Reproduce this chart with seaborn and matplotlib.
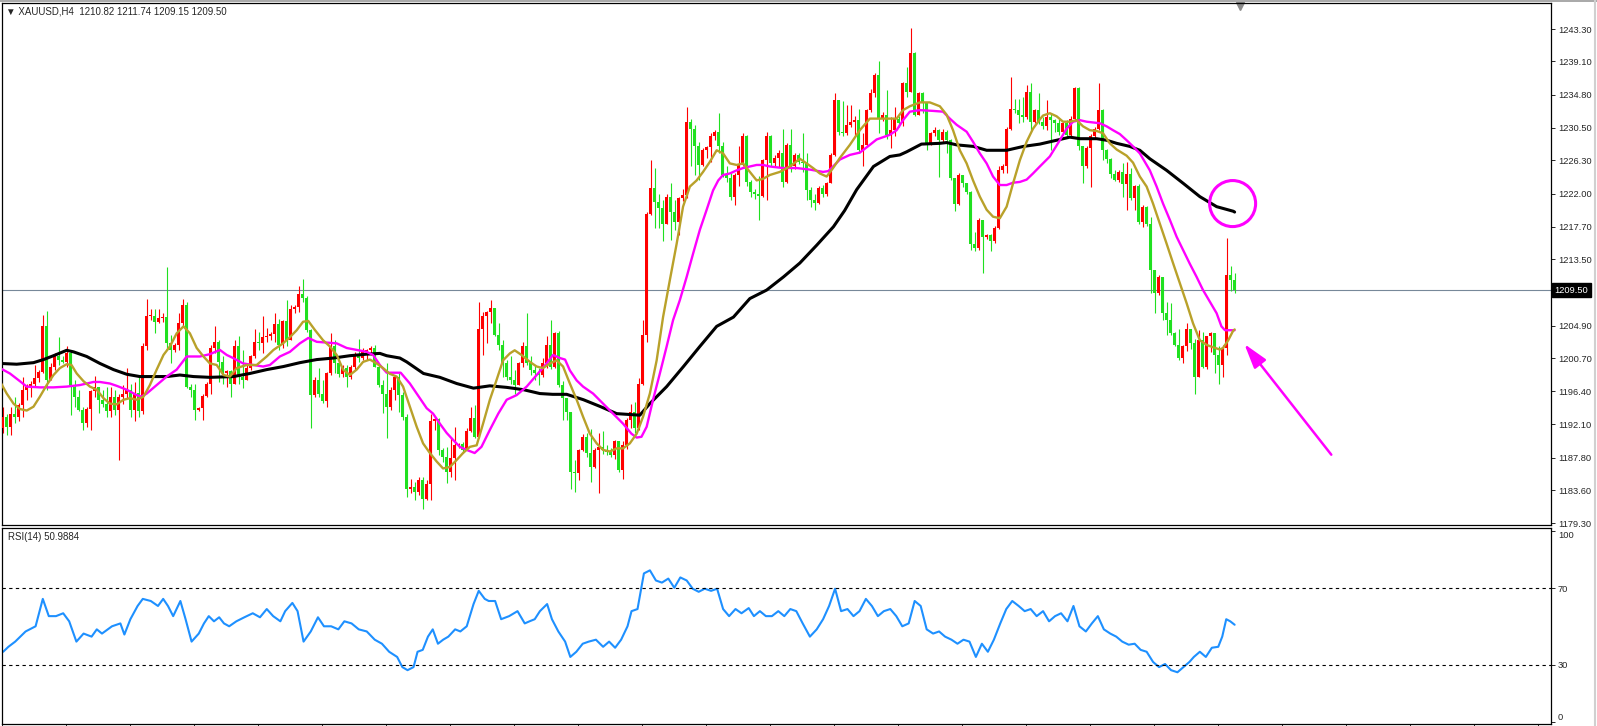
import numpy as np
import pandas as pd
import matplotlib
matplotlib.use('Agg')
import matplotlib.pyplot as plt
import seaborn as sns
from matplotlib.patches import Ellipse
from matplotlib.lines import Line2D

# XAUUSD H4 candles, open of each bar = previous close
first_open = 1191.6
close = [
    1193.1, 1191.8, 1193.5, 1193.1, 1194.6, 1196.6, 1197.0, 1197.4, 1198.1, 1198.9,
    1204.8, 1197.9, 1199.6, 1200.9, 1200.5, 1200.2, 1201.3, 1197.0, 1195.7, 1194.0,
    1192.3, 1194.1, 1196.4, 1197.0, 1195.3, 1194.8, 1193.8, 1195.7, 1194.0, 1195.7,
    1196.1, 1196.6, 1194.0, 1196.2, 1193.8, 1202.2, 1206.1, 1206.2, 1205.4, 1205.9,
    1206.0, 1202.6, 1201.8, 1202.4, 1205.2, 1207.6, 1196.9, 1196.6, 1194.0, 1194.2,
    1195.8, 1197.4, 1202.0, 1202.8, 1200.2, 1198.7, 1199.0, 1197.4, 1202.2, 1198.3,
    1197.9, 1199.4, 1200.9, 1202.8, 1202.7, 1203.4, 1203.5, 1203.8, 1205.1, 1202.4,
    1205.5, 1203.0, 1207.0, 1207.3, 1209.0, 1208.5, 1204.3, 1195.9, 1197.9, 1196.1,
    1195.1, 1198.7, 1202.2, 1200.0, 1198.6, 1199.4, 1198.3, 1199.6, 1201.2, 1200.7,
    1201.5, 1201.8, 1202.0, 1199.6, 1197.2, 1196.0, 1194.4, 1196.5, 1198.2, 1195.9,
    1193.1, 1183.8, 1184.0, 1183.4, 1184.9, 1182.5, 1184.4, 1192.5, 1192.8, 1188.8,
    1187.9, 1186.0, 1187.7, 1189.4, 1189.6, 1188.8, 1191.3, 1192.9, 1190.5, 1204.5,
    1206.1, 1206.6, 1207.2, 1203.7, 1202.4, 1200.0, 1198.3, 1197.9, 1197.2, 1200.0,
    1202.2, 1200.0, 1199.1, 1198.7, 1198.5, 1200.0, 1202.4, 1199.6, 1203.9, 1197.2,
    1195.5, 1193.7, 1186.0, 1185.8, 1188.8, 1190.5, 1188.4, 1186.6, 1188.8, 1189.2,
    1188.8, 1188.5, 1188.2, 1189.9, 1186.2, 1189.4, 1192.7, 1193.7, 1191.6, 1197.4,
    1203.7, 1219.4, 1222.7, 1220.9, 1220.1, 1218.1, 1221.6, 1219.6, 1218.3, 1221.4,
    1221.8, 1231.3, 1230.4, 1228.1, 1225.7, 1227.6, 1228.0, 1229.4, 1230.0, 1228.1,
    1224.4, 1224.0, 1221.6, 1224.4, 1225.7, 1229.4, 1223.5, 1222.2, 1222.0, 1221.7,
    1226.3, 1229.4, 1226.0, 1226.6, 1227.2, 1223.5, 1228.3, 1225.5, 1227.0, 1226.1,
    1225.9, 1222.4, 1221.2, 1220.8, 1222.7, 1222.0, 1223.3, 1227.0, 1234.1, 1230.0,
    1229.8, 1230.9, 1231.3, 1231.5, 1227.6, 1228.3, 1232.8, 1235.0, 1237.3, 1231.7,
    1232.2, 1229.6, 1230.2, 1231.7, 1231.1, 1236.3, 1235.2, 1240.2, 1232.2, 1235.0,
    1233.9, 1228.5, 1229.8, 1230.2, 1228.9, 1230.0, 1228.9, 1224.0, 1220.7, 1224.4,
    1223.3, 1222.2, 1215.5, 1215.0, 1218.6, 1216.4, 1216.6, 1215.8, 1217.6, 1225.0,
    1225.5, 1230.4, 1233.0, 1232.8, 1232.2, 1231.9, 1235.2, 1231.3, 1232.8, 1231.3,
    1230.7, 1231.9, 1231.5, 1231.1, 1230.0, 1231.1, 1229.6, 1231.7, 1235.6, 1228.1,
    1225.5, 1227.9, 1229.4, 1230.4, 1232.8, 1227.6, 1226.5, 1224.5, 1223.7, 1224.8,
    1223.2, 1224.5, 1221.4, 1223.0, 1218.3, 1220.3, 1218.1, 1212.1, 1209.1, 1211.2,
    1206.5, 1205.6, 1203.9, 1202.4, 1200.7, 1202.2, 1204.5, 1202.6, 1198.3, 1203.0,
    1199.6, 1203.5, 1203.9, 1201.1, 1199.8, 1202.0, 1211.4, 1210.82, 1209.50,
]
high = [
    1194.4, 1193.5, 1194.4, 1195.7, 1194.9, 1198.3, 1197.4, 1197.7, 1199.8, 1199.1,
    1206.3, 1206.8, 1200.0, 1201.3, 1203.4, 1200.9, 1202.2, 1201.8, 1197.9, 1196.6,
    1194.4, 1194.4, 1196.6, 1198.4, 1197.0, 1196.6, 1197.0, 1197.0, 1196.6, 1196.1,
    1197.2, 1199.4, 1197.4, 1197.6, 1198.3, 1202.6, 1208.4, 1207.0, 1207.1, 1207.0,
    1206.5, 1212.5, 1203.7, 1202.6, 1206.5, 1208.4, 1208.0, 1197.4, 1197.4, 1194.4,
    1196.1, 1197.6, 1202.4, 1204.8, 1203.0, 1200.9, 1199.2, 1199.1, 1203.0, 1203.5,
    1201.8, 1199.8, 1201.1, 1204.4, 1204.1, 1206.1, 1204.6, 1204.1, 1206.5, 1205.8,
    1205.6, 1208.2, 1207.6, 1207.6, 1210.0, 1210.9, 1208.7, 1204.5, 1198.3, 1199.4,
    1197.9, 1198.9, 1203.9, 1203.0, 1200.9, 1199.8, 1199.8, 1199.8, 1201.5, 1203.2,
    1202.0, 1201.9, 1202.2, 1202.4, 1199.8, 1197.9, 1200.0, 1197.0, 1198.5, 1198.8,
    1196.3, 1193.5, 1185.1, 1184.7, 1185.3, 1185.3, 1184.9, 1193.5, 1193.0, 1192.9,
    1189.0, 1189.2, 1190.5, 1191.8, 1189.7, 1189.8, 1191.6, 1194.4, 1194.6, 1208.0,
    1206.7, 1206.8, 1208.2, 1207.1, 1205.2, 1203.0, 1200.4, 1200.9, 1199.1, 1200.2,
    1202.8, 1206.5, 1200.9, 1199.8, 1199.4, 1200.7, 1203.5, 1205.6, 1204.1, 1204.2,
    1197.7, 1195.2, 1193.7, 1187.5, 1188.9, 1190.9, 1191.0, 1191.5, 1189.0, 1191.0,
    1191.2, 1189.4, 1189.0, 1190.1, 1189.6, 1190.0, 1192.9, 1194.8, 1195.0, 1198.1,
    1205.6, 1219.6, 1226.3, 1225.3, 1222.0, 1221.1, 1222.0, 1223.3, 1221.1, 1221.6,
    1222.6, 1233.2, 1231.7, 1230.9, 1228.7, 1227.9, 1228.2, 1229.8, 1230.2, 1232.4,
    1228.7, 1225.5, 1224.6, 1224.6, 1228.1, 1229.8, 1229.6, 1223.8, 1222.6, 1224.3,
    1226.5, 1230.0, 1229.6, 1227.0, 1227.6, 1230.4, 1228.5, 1230.4, 1227.3, 1227.2,
    1229.8, 1227.2, 1222.9, 1222.0, 1223.0, 1223.1, 1223.5, 1227.2, 1235.0, 1233.5,
    1234.0, 1233.5, 1233.5, 1232.0, 1233.0, 1229.8, 1233.0, 1235.5, 1237.6, 1239.1,
    1232.6, 1235.4, 1231.9, 1233.2, 1232.0, 1236.5, 1238.4, 1243.4, 1240.3, 1235.2,
    1235.2, 1233.0, 1230.0, 1230.6, 1230.4, 1230.3, 1230.2, 1229.0, 1224.0, 1224.6,
    1224.3, 1223.4, 1222.3, 1217.0, 1218.8, 1218.6, 1216.8, 1216.8, 1217.8, 1225.5,
    1225.8, 1230.6, 1237.1, 1234.3, 1234.3, 1234.5, 1236.0, 1236.3, 1233.0, 1235.0,
    1231.9, 1234.1, 1232.4, 1231.7, 1231.7, 1231.3, 1231.5, 1232.0, 1235.8, 1235.8,
    1228.1, 1228.1, 1229.7, 1230.6, 1236.3, 1233.0, 1227.8, 1226.6, 1225.0, 1225.0,
    1226.0, 1226.1, 1225.3, 1223.1, 1223.2, 1220.5, 1220.4, 1219.0, 1212.1, 1211.4,
    1211.2, 1207.9, 1207.8, 1204.1, 1204.5, 1202.4, 1205.2, 1204.5, 1203.2, 1204.3,
    1204.1, 1203.6, 1204.1, 1203.9, 1202.2, 1202.4, 1216.3, 1212.6, 1211.74,
]
low = [
    1191.0, 1190.7, 1190.7, 1192.3, 1192.5, 1193.1, 1195.3, 1195.7, 1197.0, 1197.6,
    1198.7, 1196.6, 1197.9, 1199.1, 1199.8, 1200.0, 1199.6, 1193.3, 1194.4, 1193.8,
    1191.4, 1191.8, 1191.4, 1195.7, 1193.6, 1194.4, 1193.1, 1193.1, 1193.3, 1187.5,
    1194.8, 1195.5, 1193.1, 1192.5, 1193.1, 1193.5, 1201.8, 1205.6, 1203.9, 1205.2,
    1205.4, 1201.8, 1200.0, 1201.5, 1201.8, 1204.8, 1196.8, 1195.7, 1192.7, 1193.9,
    1192.7, 1195.7, 1196.1, 1201.3, 1197.6, 1197.4, 1197.0, 1195.7, 1197.4, 1197.4,
    1196.8, 1198.0, 1199.2, 1200.7, 1201.8, 1201.3, 1202.8, 1203.0, 1202.8, 1201.8,
    1202.0, 1202.2, 1203.0, 1206.5, 1206.7, 1208.0, 1204.1, 1191.6, 1195.7, 1195.7,
    1194.9, 1194.4, 1198.5, 1198.7, 1198.3, 1198.3, 1197.0, 1198.0, 1199.2, 1200.2,
    1200.5, 1200.5, 1201.1, 1199.5, 1197.0, 1193.6, 1190.3, 1194.0, 1195.3, 1193.7,
    1192.7, 1182.7, 1183.2, 1182.3, 1183.0, 1181.2, 1182.3, 1182.3, 1191.4, 1188.1,
    1187.3, 1184.5, 1185.3, 1184.9, 1189.0, 1188.4, 1188.8, 1191.1, 1190.3, 1190.3,
    1201.1, 1202.6, 1205.2, 1203.5, 1201.8, 1198.3, 1197.9, 1197.4, 1196.1, 1197.2,
    1199.6, 1199.8, 1198.5, 1197.8, 1197.2, 1198.3, 1199.4, 1199.3, 1199.4, 1196.9,
    1192.7, 1192.7, 1183.8, 1183.4, 1184.9, 1188.6, 1187.9, 1184.7, 1186.5, 1183.2,
    1188.3, 1188.2, 1187.9, 1187.6, 1185.9, 1185.1, 1188.9, 1191.6, 1191.0, 1191.4,
    1197.2, 1202.8, 1219.2, 1217.5, 1217.5, 1215.8, 1218.1, 1216.0, 1217.3, 1216.6,
    1221.0, 1221.4, 1225.5, 1224.4, 1223.7, 1225.5, 1226.6, 1226.1, 1228.9, 1227.2,
    1224.2, 1223.5, 1221.2, 1220.5, 1223.0, 1225.5, 1223.0, 1221.6, 1221.3, 1218.6,
    1221.5, 1221.2, 1225.6, 1225.4, 1225.4, 1222.9, 1223.3, 1224.8, 1225.2, 1225.8,
    1224.8, 1221.2, 1220.3, 1219.9, 1220.6, 1221.6, 1221.7, 1223.3, 1226.8, 1229.6,
    1229.5, 1229.6, 1230.6, 1229.4, 1227.2, 1225.5, 1228.0, 1232.5, 1234.5, 1229.8,
    1231.4, 1229.0, 1227.9, 1229.4, 1230.6, 1230.8, 1234.5, 1235.8, 1232.0, 1232.8,
    1232.4, 1227.6, 1228.3, 1229.5, 1224.2, 1228.7, 1227.2, 1223.8, 1219.7, 1220.5,
    1222.9, 1221.9, 1214.7, 1214.6, 1214.7, 1211.7, 1216.1, 1214.5, 1215.6, 1217.4,
    1224.6, 1224.6, 1230.2, 1232.4, 1231.1, 1231.3, 1231.6, 1230.2, 1231.1, 1231.0,
    1230.3, 1230.2, 1227.6, 1230.0, 1229.6, 1229.8, 1229.2, 1229.4, 1231.5, 1227.6,
    1223.3, 1225.3, 1222.9, 1229.2, 1230.2, 1226.3, 1226.0, 1224.0, 1223.6, 1223.5,
    1221.5, 1219.9, 1221.2, 1219.9, 1218.1, 1217.7, 1217.8, 1209.1, 1206.5, 1208.9,
    1205.6, 1203.7, 1203.7, 1202.2, 1200.5, 1200.0, 1201.6, 1201.9, 1196.1, 1198.2,
    1199.4, 1199.3, 1201.5, 1198.7, 1197.4, 1198.3, 1201.1, 1209.4, 1209.15,
]

# moving averages as drawn on the chart: (bar, price)
ma_fast = [
    (-0.7, 1197.7), (1.0, 1196.1), (2.7, 1194.8), (4.3, 1194.1), (6.0, 1193.9), (7.7, 1194.4),
    (9.3, 1195.7), (11.0, 1197.2), (12.7, 1198.5), (14.3, 1199.4), (16.0, 1199.9), (17.2, 1199.8),
    (18.5, 1198.7), (20.2, 1197.7), (21.8, 1197.0), (23.5, 1196.6), (25.2, 1195.5), (26.8, 1194.8),
    (28.5, 1194.7), (30.2, 1195.3), (31.8, 1195.5), (33.5, 1195.3), (35.2, 1195.7), (36.8, 1197.2),
    (38.5, 1199.2), (40.2, 1201.1), (41.8, 1202.2), (43.5, 1203.9), (45.2, 1204.8), (46.8, 1203.9),
    (48.5, 1202.0), (50.2, 1200.9), (51.8, 1200.0), (53.5, 1199.8), (55.2, 1198.5), (56.8, 1198.3),
    (58.5, 1199.4), (61.0, 1199.8), (63.5, 1199.8), (66.0, 1200.9), (67.7, 1201.75), (70.1, 1202.6),
    (71.8, 1203.4), (73.5, 1204.3), (75.1, 1205.4), (76.4, 1205.5), (78.1, 1204.3), (80.1, 1203.0),
    (81.8, 1202.2), (83.5, 1201.1), (85.1, 1199.2), (86.8, 1198.5), (88.5, 1199.2), (90.1, 1200.2),
    (91.8, 1200.5), (93.5, 1200.0), (95.1, 1199.4), (96.8, 1198.65), (98.5, 1198.3), (100.1, 1197.0),
    (101.8, 1194.4), (103.5, 1191.8), (105.1, 1189.65), (106.8, 1188.4), (108.5, 1187.3), (110.1, 1186.4),
    (111.8, 1186.6), (113.5, 1187.5), (115.1, 1188.4), (116.8, 1189.2), (118.5, 1189.4), (120.1, 1192.2),
    (121.8, 1195.3), (123.5, 1197.9), (125.1, 1200.4), (126.8, 1201.3), (128.0, 1201.7), (129.7, 1201.1),
    (131.8, 1200.2), (133.5, 1199.6), (135.1, 1199.4), (136.8, 1200.0), (138.5, 1200.4), (140.1, 1199.6),
    (141.8, 1197.4), (143.5, 1195.3), (145.1, 1193.1), (146.8, 1190.9), (148.5, 1189.65), (150.1, 1188.8),
    (151.8, 1188.6), (153.5, 1189.0), (155.1, 1189.0), (156.8, 1189.65), (158.5, 1190.9), (160.1, 1193.1),
    (161.8, 1196.1), (163.5, 1200.4), (165.1, 1206.0), (166.8, 1210.8), (168.5, 1215.5), (170.1, 1220.3),
    (171.8, 1222.9), (173.5, 1223.7), (175.1, 1224.8), (176.8, 1226.1), (178.5, 1227.6), (180.1, 1227.2),
    (181.8, 1225.9), (183.5, 1225.7), (185.1, 1225.9), (186.8, 1224.8), (188.5, 1223.7), (190.1, 1223.9),
    (191.8, 1224.4), (194.3, 1224.8), (196.8, 1225.5), (199.3, 1226.5), (201.0, 1225.9), (202.6, 1225.3),
    (204.3, 1224.6), (206.0, 1224.2), (207.6, 1225.3), (209.3, 1226.6), (211.8, 1228.3), (214.3, 1230.2),
    (216.8, 1231.7), (219.3, 1231.7), (221.8, 1231.7), (223.5, 1231.7), (225.1, 1232.8), (226.8, 1233.3),
    (229.3, 1233.8), (231.8, 1233.8), (234.3, 1233.3), (236.0, 1232.2), (237.6, 1230.2), (239.3, 1227.6),
    (241.0, 1225.9), (242.6, 1223.7), (244.3, 1221.6), (246.0, 1219.9), (247.6, 1219.0), (249.3, 1218.8),
    (251.0, 1220.3), (252.6, 1223.3), (254.3, 1226.3), (256.0, 1228.7), (257.6, 1230.4), (259.3, 1231.6),
    (260.1, 1232.1), (261.8, 1232.4), (263.5, 1232.0), (265.1, 1231.3), (266.8, 1231.3), (268.5, 1231.5),
    (270.1, 1230.7), (271.8, 1230.2), (273.5, 1230.1), (275.1, 1229.8), (276.8, 1228.5), (278.5, 1227.7),
    (281.0, 1226.9), (282.6, 1226.0), (284.3, 1224.2), (286.0, 1222.9), (287.6, 1220.7), (289.3, 1218.1),
    (291.0, 1215.5), (292.6, 1213.0), (294.3, 1210.4), (296.0, 1207.8), (297.6, 1205.2), (299.3, 1203.0),
    (301.0, 1202.4), (302.6, 1202.1), (304.3, 1201.8), (305.1, 1202.0), (306.4, 1203.0), (307.6, 1204.2),
    (308.0, 1204.4),
]
ma_mid = [
    (-0.7, 1199.4), (1.8, 1198.7), (4.3, 1197.7), (6.0, 1197.0), (9.3, 1196.9), (12.7, 1196.9),
    (16.0, 1197.0), (19.3, 1197.2), (22.7, 1197.6), (24.3, 1197.6), (26.8, 1197.4), (28.5, 1197.1),
    (31.0, 1196.6), (33.5, 1195.9), (34.7, 1195.7), (36.0, 1196.1), (38.5, 1197.2), (41.0, 1198.3),
    (43.5, 1199.2), (46.0, 1200.9), (49.3, 1200.9), (51.8, 1201.2), (54.3, 1201.75), (56.0, 1201.1),
    (57.6, 1200.7), (60.1, 1200.0), (62.6, 1199.8), (65.1, 1199.6), (66.8, 1199.8), (69.3, 1200.9),
    (71.8, 1201.5), (74.3, 1202.6), (76.4, 1203.3), (78.5, 1202.8), (81.0, 1202.7), (83.5, 1202.6),
    (86.0, 1202.0), (88.5, 1201.75), (91.0, 1201.5), (92.6, 1201.1), (94.3, 1199.8), (96.0, 1198.8),
    (99.5, 1198.8), (101.8, 1197.4), (104.3, 1195.5), (106.0, 1194.2), (107.6, 1193.5), (109.3, 1192.2),
    (111.0, 1191.0), (112.6, 1190.1), (114.3, 1189.2), (116.0, 1188.8), (118.0, 1188.4), (119.7, 1189.2),
    (121.8, 1191.4), (123.9, 1193.5), (126.0, 1195.3), (128.5, 1195.9), (131.0, 1197.0), (133.5, 1198.5),
    (136.0, 1200.0), (137.6, 1201.1), (139.3, 1200.7), (140.6, 1200.5), (141.8, 1199.1), (143.5, 1197.8),
    (145.1, 1197.0), (147.6, 1196.1), (150.1, 1194.8), (152.6, 1193.5), (155.1, 1192.2), (157.2, 1190.9),
    (158.5, 1190.4), (159.7, 1190.5), (161.0, 1191.8), (162.6, 1195.3), (164.3, 1198.7), (166.0, 1202.2),
    (167.6, 1205.6), (169.3, 1208.2), (171.0, 1211.2), (172.6, 1214.2), (174.3, 1217.3), (176.0, 1219.9),
    (177.6, 1222.4), (178.9, 1223.7), (180.1, 1224.4), (181.8, 1224.6), (183.5, 1225.0), (185.1, 1225.3),
    (186.8, 1225.5), (188.5, 1225.7), (190.1, 1225.7), (191.8, 1225.5), (195.1, 1225.3), (198.5, 1225.3),
    (201.8, 1225.1), (203.5, 1224.95), (205.1, 1224.8), (206.4, 1224.9), (207.6, 1225.5), (209.3, 1226.4),
    (211.8, 1227.0), (214.3, 1227.3), (216.8, 1228.3), (218.5, 1229.0), (221.8, 1229.6), (223.5, 1230.2),
    (225.1, 1231.5), (226.8, 1232.6), (229.3, 1232.8), (232.6, 1232.7), (235.1, 1232.6), (236.8, 1231.7),
    (238.5, 1230.9), (241.0, 1230.0), (242.6, 1228.7), (244.3, 1227.2), (246.0, 1225.9), (247.6, 1224.2),
    (249.3, 1223.1), (251.0, 1223.1), (252.6, 1223.4), (254.3, 1223.5), (256.0, 1223.8), (257.6, 1224.6),
    (259.3, 1225.5), (261.8, 1226.8), (264.3, 1228.9), (266.0, 1230.4), (267.6, 1231.3), (269.3, 1231.5),
    (271.0, 1231.3), (272.6, 1231.2), (274.3, 1231.1), (276.0, 1230.7), (277.6, 1230.2), (279.3, 1229.7),
    (281.0, 1228.9), (282.6, 1228.1), (284.3, 1227.2), (285.1, 1226.5), (286.8, 1225.0), (288.5, 1222.9),
    (290.1, 1220.7), (291.8, 1218.6), (293.5, 1216.4), (295.1, 1214.7), (296.8, 1212.9), (298.5, 1211.2),
    (300.1, 1209.5), (301.8, 1208.0), (303.5, 1206.5), (304.7, 1204.8), (305.6, 1204.3), (308.0, 1204.3),
]
ma_slow = [
    (-0.7, 1200.0), (3.5, 1199.9), (7.7, 1200.1), (10.2, 1200.5), (12.7, 1201.0), (16.0, 1201.7),
    (17.7, 1201.5), (21.0, 1200.9), (24.3, 1200.0), (27.7, 1199.2), (31.0, 1198.6), (34.3, 1198.3),
    (37.7, 1198.3), (41.0, 1198.3), (44.3, 1198.5), (47.7, 1198.3), (51.8, 1198.2), (57.7, 1198.3),
    (61.8, 1198.7), (66.0, 1199.2), (70.2, 1199.6), (74.3, 1200.1), (78.5, 1200.5), (82.7, 1200.7),
    (86.8, 1201.0), (91.0, 1201.2), (94.3, 1201.3), (96.0, 1201.0), (99.3, 1200.7), (101.0, 1200.2),
    (105.2, 1198.7), (109.3, 1198.2), (113.5, 1197.4), (117.7, 1196.8), (121.8, 1197.1), (126.0, 1196.9),
    (130.2, 1196.6), (134.3, 1196.1), (137.5, 1196.0), (141.0, 1196.0), (145.2, 1195.3), (149.5, 1194.4),
    (153.5, 1193.5), (159.3, 1193.3), (161.8, 1194.8), (166.0, 1197.0), (170.2, 1199.6), (174.3, 1202.2),
    (178.5, 1204.8), (182.7, 1206.0), (186.8, 1208.4), (191.0, 1209.5), (195.2, 1211.2), (199.3, 1213.0),
    (203.5, 1215.3), (207.7, 1217.7), (210.5, 1219.8), (213.5, 1222.5), (217.7, 1225.5), (221.8, 1226.8),
    (224.3, 1227.0), (226.0, 1227.4), (229.7, 1228.4), (234.3, 1228.5), (236.0, 1228.6), (238.5, 1228.3),
    (242.7, 1228.1), (246.0, 1227.6), (251.0, 1227.6), (255.2, 1228.1), (259.3, 1228.4), (263.5, 1228.9),
    (266.8, 1229.3), (269.3, 1229.1), (273.5, 1229.1), (276.0, 1228.9), (278.5, 1228.5), (281.8, 1228.1),
    (284.3, 1227.6), (286.8, 1226.5), (291.0, 1225.0), (295.2, 1223.3), (299.3, 1221.6), (303.5, 1220.3),
    (307.7, 1219.7), (308.0, 1219.6),
]

# RSI(14) as drawn: (bar, value)
rsi = [
    (0.1, 36.9), (1.4, 39.5), (3.1, 42.2), (5.7, 47.5), (8.2, 50.2), (10.0, 64.5), (11.5, 55.5),
    (13.3, 55.5), (15.1, 57.0), (16.6, 52.8), (18.4, 42.2), (20.2, 46.4), (22.2, 44.8), (23.5, 48.6),
    (24.8, 46.4), (27.3, 50.2), (29.4, 51.7), (30.4, 45.9), (31.9, 53.9), (33.7, 60.8), (35.0, 64.5),
    (37.0, 63.4), (38.8, 60.8), (40.1, 64.5), (41.3, 60.8), (42.6, 55.5), (44.4, 63.4), (45.7, 53.9),
    (47.2, 42.2), (49.0, 46.4), (50.3, 51.7), (51.5, 55.5), (52.8, 52.8), (54.1, 54.9), (55.3, 51.7),
    (56.6, 50.2), (58.4, 52.8), (60.4, 54.9), (62.5, 57.0), (64.3, 54.9), (66.0, 59.2), (67.6, 55.5),
    (69.4, 52.8), (70.6, 58.1), (72.4, 62.4), (73.7, 58.1), (75.2, 42.2), (77.0, 47.5), (78.8, 54.9),
    (80.3, 50.2), (82.1, 50.2), (83.9, 48.6), (85.4, 52.8), (87.2, 51.7), (89.0, 48.6), (91.0, 47.5),
    (93.0, 43.2), (94.8, 41.1), (96.6, 36.9), (98.6, 34.2), (99.9, 28.9), (101.2, 27.3), (102.7, 28.9),
    (103.7, 36.9), (105.0, 37.9), (106.3, 44.8), (107.5, 48.6), (108.8, 41.1), (110.1, 43.2), (111.4, 44.8),
    (113.1, 48.6), (114.4, 47.5), (116.0, 50.2), (117.7, 61.8), (119.0, 68.7), (120.5, 64.5), (121.5, 63.4),
    (123.1, 63.4), (124.6, 53.9), (126.6, 55.5), (128.7, 58.1), (130.5, 51.7), (131.7, 52.8), (133.0, 53.9),
    (134.3, 58.1), (136.1, 61.8), (137.3, 53.9), (138.9, 47.5), (140.6, 42.2), (141.9, 34.2), (143.4, 36.9),
    (145.0, 41.1), (146.5, 42.2), (148.3, 43.2), (150.1, 39.5), (151.6, 42.2), (153.1, 39.0), (154.6, 43.2),
    (156.2, 50.2), (157.2, 58.1), (158.7, 59.2), (160.3, 77.8), (161.8, 79.4), (163.3, 74.1), (164.8, 73.0),
    (166.4, 75.1), (167.9, 70.3), (169.4, 75.7), (171.0, 74.1), (172.5, 69.8), (174.0, 68.2), (175.5, 69.8),
    (177.1, 68.7), (178.6, 69.8), (180.1, 59.2), (181.6, 55.5), (183.2, 59.2), (184.7, 57.0), (186.5, 59.7),
    (187.8, 55.5), (189.3, 58.1), (190.8, 55.5), (192.3, 55.5), (193.9, 58.1), (195.4, 55.5), (196.9, 59.2),
    (198.4, 58.1), (200.0, 51.7), (201.8, 44.8), (203.5, 48.6), (205.1, 53.9), (206.6, 60.8), (208.1, 69.8),
    (209.6, 58.1), (211.2, 59.2), (212.7, 55.5), (214.2, 58.1), (215.8, 64.5), (217.3, 60.8), (218.8, 55.5),
    (220.3, 58.1), (221.9, 59.2), (223.4, 55.5), (224.9, 50.2), (226.5, 51.7), (228.0, 63.4), (229.5, 60.8),
    (231.0, 48.6), (232.6, 46.4), (234.1, 47.5), (235.6, 44.8), (237.2, 43.2), (238.7, 41.1), (240.2, 43.2),
    (241.7, 42.2), (243.3, 34.2), (244.8, 41.1), (246.3, 36.9), (247.8, 43.2), (249.4, 51.7), (250.9, 59.2),
    (252.4, 63.4), (254.0, 60.8), (255.5, 58.1), (257.0, 59.2), (258.5, 55.5), (260.1, 58.1), (261.6, 52.8),
    (263.1, 55.5), (264.6, 57.0), (266.2, 52.8), (267.7, 60.8), (269.2, 50.2), (270.8, 47.5), (272.3, 51.7),
    (273.8, 55.5), (275.3, 48.6), (276.9, 46.4), (278.4, 44.8), (279.9, 42.2), (281.5, 40.6), (283.0, 41.1),
    (284.5, 37.9), (286.0, 36.9), (287.6, 31.6), (289.1, 28.9), (290.6, 30.5), (292.1, 27.3), (293.7, 26.2),
    (295.2, 28.9), (296.7, 31.6), (297.8, 34.2), (299.3, 36.9), (300.8, 34.2), (302.3, 39.0), (303.9, 39.5),
    (304.9, 44.8), (305.9, 53.9), (306.9, 52.8), (308.0, 51.0),
]

price_ticks = [1243.30, 1239.10, 1234.80, 1230.50, 1226.30, 1222.00, 1217.70, 1213.50,
               1204.90, 1200.70, 1196.40, 1192.10, 1187.80, 1183.60, 1179.30]
bid = 1209.50
title = '\u25BC XAUUSD,H4  1210.82 1211.74 1209.15 1209.50'
rsi_title = 'RSI(14) 50.9884'

# highlighted spots (circle on the slow MA, arrow to the fast/mid cross)
circle_center = (307.5, 1220.7)
arrow_head = (310.0, 1202.8)
arrow_tail = (332.6, 1187.9)

# build the frame
df = pd.DataFrame({'close': close, 'high': high, 'low': low})
df['open'] = [first_open] + close[:-1]
df['bar'] = np.arange(len(df))
df['high'] = df[['high', 'open', 'close']].max(axis=1)
df['low'] = df[['low', 'open', 'close']].min(axis=1)
df['up'] = df['close'] >= df['open']
df['col'] = np.where(df['up'], '#ff0000', '#20e020')

sns.set_style('white')
plt.rcParams['font.family'] = ['Liberation Sans', 'DejaVu Sans']

W, H = 1597, 726
fig = plt.figure(figsize=(W / 100, H / 100), dpi=100)
ax = fig.add_axes([2 / W, 1 - 525 / H, 1549 / W, 522 / H])
rx = fig.add_axes([2 / W, 1 - 724 / H, 1549 / W, 196 / H])

# thin window frame of the terminal
fig.add_artist(Line2D([0, 1], [1 - 0.5 / H, 1 - 0.5 / H], color='#9a9a9a', lw=1.2))
fig.add_artist(Line2D([1 - 2.5 / W, 1 - 2.5 / W], [0, 1], color='#d0d0d0', lw=1.5))

xmin, xmax = -0.175, 387.1
for a in (ax, rx):
    a.set_xlim(xmin, xmax)
    for s in a.spines.values():
        s.set_color('black')
        s.set_linewidth(0.9)

# candles
ax.axhline(bid, color='#778899', lw=0.8, zorder=1)
ax.vlines(df['bar'], df['low'], df['high'], colors=df['col'], lw=0.8, zorder=2)
body = (df['close'] - df['open']).abs().clip(lower=0.12)
ax.bar(df['bar'], body, bottom=df[['open', 'close']].min(axis=1), width=0.75,
       color=df['col'], linewidth=0, zorder=3)

# moving averages
for pts, col, lw in [(ma_slow, 'black', 2.2), (ma_mid, '#ff00ff', 1.7), (ma_fast, '#b9a12a', 1.7)]:
    d = pd.DataFrame(pts, columns=['bar', 'val'])
    sns.lineplot(data=d, x='bar', y='val', ax=ax, color=col, lw=lw, zorder=4,
                 estimator=None, sort=False)

ax.set_ylim(1179.08, 1246.67)
ax.yaxis.tick_right()
ax.set_yticks(price_ticks)
ax.set_yticklabels(['%.2f' % t for t in price_ticks], fontsize=6.7)
ax.tick_params(axis='y', direction='out', length=3, width=0.7, pad=2, right=True, left=False)
ax.set_xticks([])
ax.set_xlabel('')
ax.set_ylabel('')
ax.annotate('%.2f' % bid, xy=(1, bid), xycoords=('axes fraction', 'data'),
            xytext=(2.5, 0), textcoords='offset points', va='center', ha='left',
            fontsize=6.7, color='white',
            bbox=dict(boxstyle='square,pad=0.25', fc='black', ec='black'))

# annotations
ax.add_patch(Ellipse(circle_center, width=11.5, height=5.96, fill=False,
                     ec='#ff00ff', lw=2.2, zorder=5))
ax.annotate('', xy=arrow_head, xytext=arrow_tail,
            arrowprops=dict(arrowstyle='-|>,head_length=1.5,head_width=0.45',
                            color='#ff00ff', lw=1.8, mutation_scale=10))
ax.plot([len(df) + 0.4], [0.994], marker='v', color='#8a8a8a', ms=6,
        transform=ax.get_xaxis_transform(), clip_on=False)

fig.text(6 / W, 1 - 11.5 / H, title, fontsize=7, va='center', ha='left')

# RSI panel
rd = pd.DataFrame(rsi, columns=['bar', 'val'])
sns.lineplot(data=rd, x='bar', y='val', ax=rx, color='#1e90ff', lw=1.5,
             estimator=None, sort=False)
for lev in (70, 30):
    rx.axhline(lev, color='black', lw=0.8, ls=(0, (3, 3)))
rx.set_ylim(-0.8, 101.5)
rx.yaxis.tick_right()
rx.set_yticks([0, 30, 70, 100])
labs = rx.set_yticklabels(['0', '30', '70', '100'], fontsize=6.7)
labs[0].set_va('bottom')
labs[-1].set_va('top')
rx.tick_params(axis='y', direction='out', length=3, width=0.7, pad=2, right=True, left=False)
rx.set_xticks(np.arange(0, 388, 16) - 0.2)
rx.set_xticklabels([])
rx.tick_params(axis='x', direction='out', length=3, width=0.7, bottom=True)
rx.set_xlabel('')
rx.set_ylabel('')
rx.text(0.004, 0.955, rsi_title, transform=rx.transAxes, fontsize=7, va='center', ha='left')

fig.savefig('out.png', dpi=100)
